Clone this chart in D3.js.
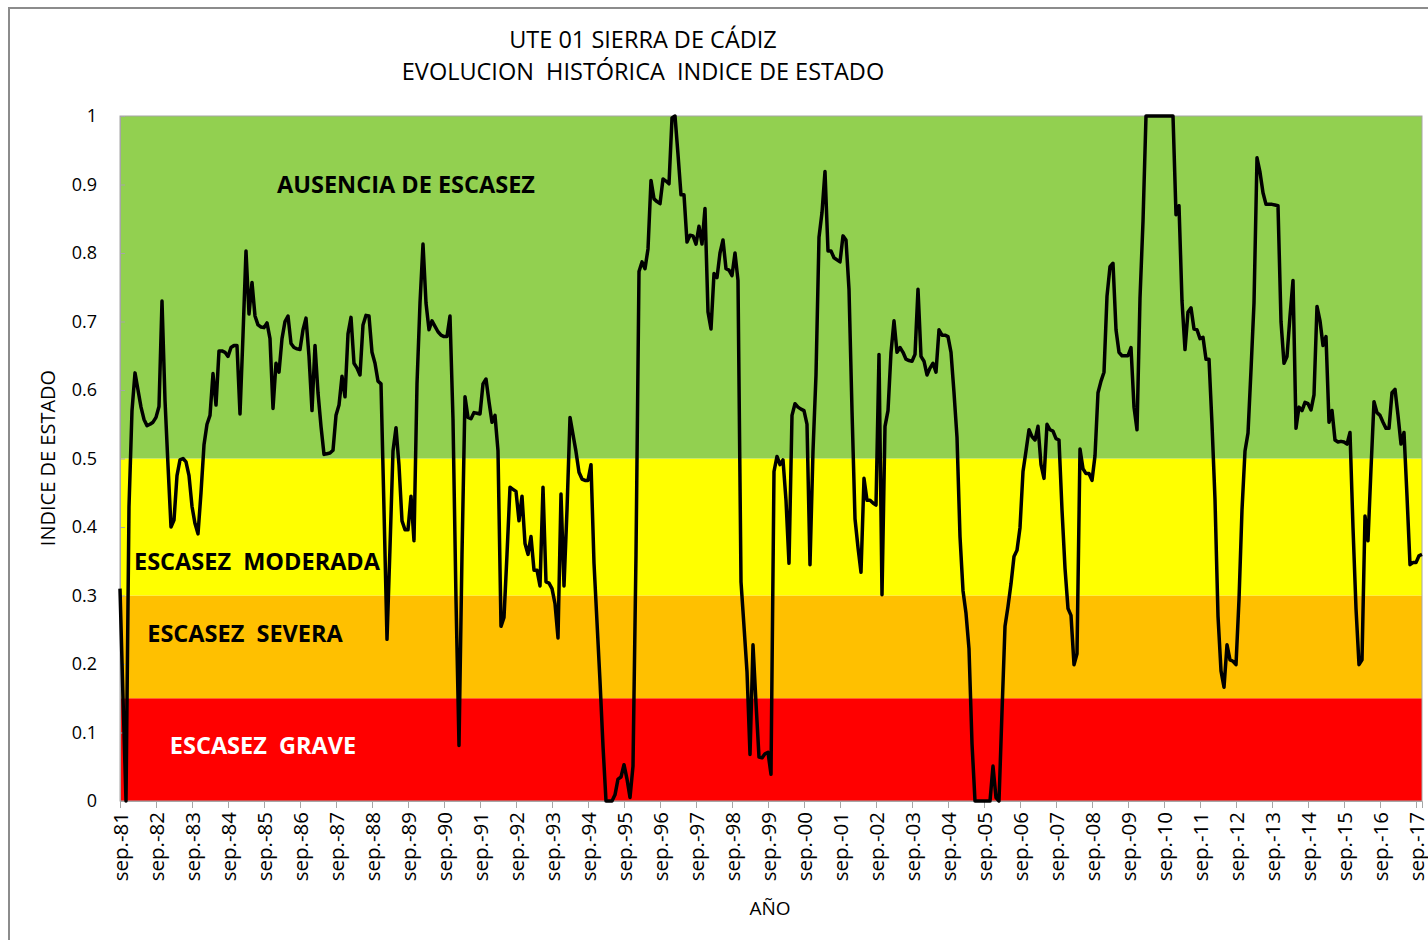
<html>
<head>
    <meta charset="UTF-8">
    <title>UTE 01 Sierra de Cádiz</title>
    <script src="https://d3js.org/d3.v7.min.js"></script>
    <style>
        body { margin: 0; background: #fff; }
        text { font-family: "Open Sans", "Noto Sans", sans-serif; }
    </style>
</head>
<body>
    <svg width="1428" height="940"></svg>
    <script>
        // índice de estado mensual, desde sep.-81
        var indice = [
            0.31, 0.15, 0.00, 0.43, 0.57, 0.625, 0.60, 0.575, 0.557, 0.548,
            0.55, 0.553, 0.56, 0.576, 0.73, 0.585, 0.49, 0.40, 0.41, 0.475,
            0.498, 0.50, 0.495, 0.475, 0.43, 0.405, 0.39, 0.45, 0.52, 0.55,
            0.563, 0.624, 0.578, 0.657, 0.657, 0.655, 0.649, 0.662, 0.665, 0.665,
            0.565, 0.68, 0.803, 0.711, 0.757, 0.708, 0.695, 0.692, 0.691, 0.698,
            0.675, 0.573, 0.639, 0.626, 0.675, 0.70, 0.708, 0.668, 0.662, 0.66,
            0.659, 0.688, 0.705, 0.649, 0.57, 0.665, 0.596, 0.547, 0.506, 0.507,
            0.508, 0.512, 0.563, 0.578, 0.62, 0.59, 0.682, 0.706, 0.639, 0.632,
            0.622, 0.695, 0.709, 0.708, 0.655, 0.639, 0.613, 0.609, 0.425, 0.236,
            0.37, 0.511, 0.545, 0.49, 0.409, 0.396, 0.396, 0.445, 0.38, 0.609,
            0.727, 0.813, 0.727, 0.688, 0.701, 0.693, 0.685, 0.68, 0.678, 0.678,
            0.708, 0.557, 0.294, 0.081, 0.36, 0.59, 0.56, 0.558, 0.567, 0.566,
            0.565, 0.609, 0.616, 0.583, 0.553, 0.563, 0.511, 0.255, 0.268, 0.36,
            0.458, 0.455, 0.452, 0.409, 0.445, 0.376, 0.36, 0.386, 0.337, 0.337,
            0.314, 0.458, 0.32, 0.318, 0.31, 0.288, 0.238, 0.448, 0.314, 0.425,
            0.56, 0.535, 0.51, 0.48, 0.47, 0.468, 0.468, 0.491, 0.347, 0.261,
            0.175, 0.08, 0, 0, 0, 0.009, 0.032, 0.035, 0.053, 0.032,
            0.005, 0.051, 0.36, 0.773, 0.787, 0.777, 0.806, 0.906, 0.879, 0.875,
            0.872, 0.908, 0.905, 0.901, 0.997, 1.0, 0.944, 0.885, 0.885, 0.816,
            0.826, 0.825, 0.813, 0.839, 0.813, 0.865, 0.714, 0.689, 0.77, 0.764,
            0.80, 0.819, 0.777, 0.775, 0.767, 0.80, 0.76, 0.32, 0.255, 0.189,
            0.068, 0.228, 0.143, 0.064, 0.063, 0.069, 0.071, 0.039, 0.481, 0.503,
            0.491, 0.498, 0.439, 0.347, 0.563, 0.58, 0.575, 0.572, 0.57, 0.55,
            0.345, 0.511, 0.622, 0.823, 0.859, 0.919, 0.803, 0.803, 0.793, 0.79,
            0.787, 0.825, 0.819, 0.747, 0.57, 0.412, 0.37, 0.334, 0.471, 0.439,
            0.439, 0.435, 0.432, 0.652, 0.301, 0.547, 0.57, 0.655, 0.701, 0.655,
            0.662, 0.655, 0.645, 0.643, 0.642, 0.652, 0.747, 0.649, 0.642, 0.622,
            0.632, 0.639, 0.626, 0.688, 0.68, 0.68, 0.678, 0.655, 0.596, 0.531,
            0.386, 0.307, 0.274, 0.222, 0.084, 0, 0, 0, 0, 0,
            0, 0.051, 0.005, 0, 0.13, 0.255, 0.284, 0.317, 0.357, 0.366,
            0.399, 0.481, 0.511, 0.542, 0.532, 0.527, 0.547, 0.491, 0.471, 0.55,
            0.542, 0.54, 0.529, 0.527, 0.425, 0.34, 0.281, 0.271, 0.199, 0.215,
            0.514, 0.485, 0.478, 0.478, 0.468, 0.504, 0.596, 0.613, 0.626, 0.737,
            0.78, 0.785, 0.688, 0.655, 0.65, 0.65, 0.65, 0.662, 0.575, 0.542,
            0.734, 0.846, 1, 1, 1, 1, 1, 1, 1, 1,
            1, 1, 0.856, 0.869, 0.73, 0.659, 0.714, 0.72, 0.689, 0.688,
            0.675, 0.677, 0.645, 0.645, 0.55, 0.44, 0.27, 0.19, 0.166, 0.228,
            0.206, 0.204, 0.199, 0.294, 0.425, 0.511, 0.537, 0.629, 0.727, 0.939,
            0.918, 0.888, 0.871, 0.871, 0.871, 0.87, 0.869, 0.70, 0.639, 0.649,
            0.708, 0.76, 0.544, 0.575, 0.57, 0.582, 0.58, 0.571, 0.593, 0.722,
            0.701, 0.665, 0.678, 0.553, 0.57, 0.527, 0.524, 0.525, 0.524, 0.521,
            0.538, 0.399, 0.281, 0.199, 0.206, 0.416, 0.38, 0.485, 0.583, 0.567,
            0.563, 0.553, 0.544, 0.544, 0.596, 0.601, 0.563, 0.521, 0.538, 0.445,
            0.345, 0.348, 0.348, 0.358, 0.36
        ];

        // etiquetas del eje X, una cada 12 meses
        var etiquetas = ['sep.-81', 'sep.-82', 'sep.-83', 'sep.-84', 'sep.-85', 'sep.-86', 'sep.-87',
            'sep.-88', 'sep.-89', 'sep.-90', 'sep.-91', 'sep.-92', 'sep.-93', 'sep.-94', 'sep.-95',
            'sep.-96', 'sep.-97', 'sep.-98', 'sep.-99', 'sep.-00', 'sep.-01', 'sep.-02', 'sep.-03',
            'sep.-04', 'sep.-05', 'sep.-06', 'sep.-07', 'sep.-08', 'sep.-09', 'sep.-10', 'sep.-11',
            'sep.-12', 'sep.-13', 'sep.-14', 'sep.-15', 'sep.-16', 'sep.-17'];

        // umbrales de los escenarios de escasez
        var umbrales = [0, 0.15, 0.3, 0.5, 1];
        var escenarios = ['ESCASEZ  GRAVE', 'ESCASEZ  SEVERA', 'ESCASEZ  MODERADA', 'AUSENCIA DE ESCASEZ'];

        var colores = ['#FF0000', '#FFC000', '#FFFF00', '#92D050'];
        var colorTexto = ['#fff', '#000', '#000', '#000'];
        var posTexto = [[263, 0.08], [245, 0.244], [257, 0.349], [406, 0.9]];

        var svg = d3.select('svg'),
            margin = { top: 116, right: 6, bottom: 139, left: 120 },
            width = +svg.attr('width') - margin.left - margin.right,
            height = +svg.attr('height') - margin.top - margin.bottom;

        // marco exterior
        svg.append('rect')
            .attr('x', 9).attr('y', 8)
            .attr('width', 1440).attr('height', 950)
            .attr('fill', '#fff')
            .attr('stroke', '#8c8c8c')
            .attr('stroke-width', 2);

        var g = svg.append('g').attr('transform', 'translate(' + margin.left + ',' + margin.top + ')');

        var x = d3.scaleLinear().domain([0, indice.length - 1]).range([0, width]);
        var y = d3.scaleLinear().domain([0, 1]).range([height, 0]);

        // franjas de color
        g.selectAll('rect.franja')
            .data(escenarios)
            .enter().append('rect')
            .attr('class', 'franja')
            .attr('x', 0)
            .attr('width', width)
            .attr('y', (d, i) => y(umbrales[i + 1]))
            .attr('height', (d, i) => y(umbrales[i]) - y(umbrales[i + 1]))
            .attr('fill', (d, i) => colores[i]);

        g.append('rect')
            .attr('width', width).attr('height', height)
            .attr('fill', 'none')
            .attr('stroke', '#a6a6a6')
            .attr('stroke-width', 1);

        // nombres de los escenarios
        g.selectAll('text.escenario')
            .data(escenarios)
            .enter().append('text')
            .attr('class', 'escenario')
            .attr('x', (d, i) => posTexto[i][0] - margin.left)
            .attr('y', (d, i) => y(posTexto[i][1]))
            .attr('dy', '0.35em')
            .attr('text-anchor', 'middle')
            .attr('fill', (d, i) => colorTexto[i])
            .style('font-size', '23.5px')
            .style('font-weight', 'bold')
            .style('white-space', 'pre')
            .text(d => d);

        // ejes
        var ejeY = g.append('g')
            .call(d3.axisLeft(y).ticks(10).tickSize(-5).tickPadding(23).tickFormat(d3.format('~g')));
        ejeY.select('.domain').attr('stroke', '#a6a6a6');
        ejeY.selectAll('.tick line').attr('stroke', '#a6a6a6');
        ejeY.selectAll('.tick text').style('font-size', '18px').attr('fill', '#000');

        var ejeX = g.append('g')
            .attr('transform', 'translate(0,' + height + ')')
            .call(d3.axisBottom(x)
                .tickValues(etiquetas.map((d, i) => i * 12))
                .tickSize(7)
                .tickFormat((d, i) => etiquetas[i]));
        ejeX.select('.domain').attr('stroke', '#a6a6a6');
        ejeX.selectAll('.tick line').attr('stroke', '#a6a6a6');
        ejeX.selectAll('.tick text')
            .attr('transform', 'rotate(-90)')
            .attr('x', -11)
            .attr('y', 0)
            .attr('dy', '0.35em')
            .attr('text-anchor', 'end')
            .attr('fill', '#000')
            .style('font-size', '20.5px');

        // serie
        var linea = d3.line()
            .x((d, i) => x(i))
            .y(d => y(d));

        g.append('path')
            .datum(indice)
            .attr('fill', 'none')
            .attr('stroke', '#000')
            .attr('stroke-width', 3.5)
            .attr('stroke-linejoin', 'round')
            .attr('d', linea);

        // títulos
        svg.append('text')
            .attr('x', 643).attr('y', 40)
            .attr('dy', '0.35em')
            .attr('text-anchor', 'middle')
            .style('font-size', '23.5px')
            .text('UTE 01 SIERRA DE CÁDIZ');
        svg.append('text')
            .attr('x', 643).attr('y', 72)
            .attr('dy', '0.35em')
            .attr('text-anchor', 'middle')
            .style('font-size', '23.5px')
            .style('white-space', 'pre')
            .text('EVOLUCION  HISTÓRICA  INDICE DE ESTADO');

        svg.append('text')
            .attr('transform', 'translate(48,458) rotate(-90)')
            .attr('dy', '0.35em')
            .attr('text-anchor', 'middle')
            .style('font-size', '20px')
            .text('INDICE DE ESTADO');

        svg.append('text')
            .attr('x', 770).attr('y', 908)
            .attr('dy', '0.35em')
            .attr('text-anchor', 'middle')
            .style('font-size', '19px')
            .text('AÑO');
    </script>
</body>
</html>
